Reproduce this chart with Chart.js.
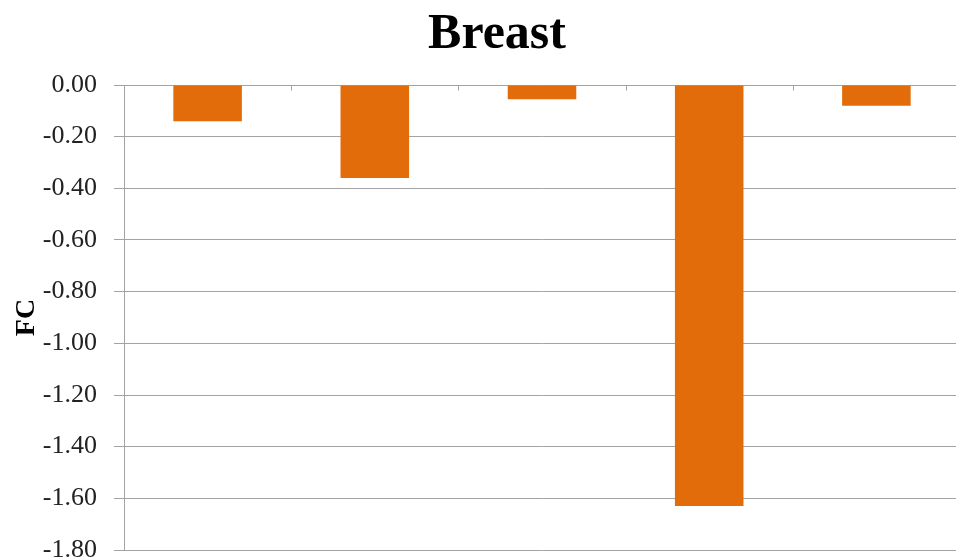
<!DOCTYPE html>
<html>
<head>
<meta charset="utf-8">
<script src="https://cdn.jsdelivr.net/npm/chart.js@4/dist/chart.umd.min.js"></script>
<style>
  html, body { margin: 0; padding: 0; overflow: hidden; background: #ffffff; }
  #wrap { width: 960px; height: 558px; }
</style>
</head>
<body>
<div id="wrap"><canvas id="c" width="960" height="558"></canvas></div>
<script>
const chartTitle = "Breast";
const yAxisTitle = "FC";
const categories = ["", "", "", "", ""];
const fcValues = [-0.14, -0.36, -0.055, -1.63, -0.08];
const yMin = -1.8;
const yMax = 0;
const yStep = 0.2;

const gridGrey = "#a3a3a3";
const barColor = "#E36C0A";
const serif = "'Liberation Serif', 'DejaVu Serif', serif";

const categoryTicks = {
  id: "categoryTicks",
  afterDatasetsDraw(chart) {
    const { ctx, chartArea, scales } = chart;
    const n = categories.length;
    const y0 = Math.round(scales.y.getPixelForValue(0)) + 0.5;
    const step = (chartArea.right - chartArea.left) / n;
    ctx.save();
    ctx.strokeStyle = gridGrey;
    ctx.lineWidth = 1;
    ctx.beginPath();
    for (let i = 1; i <= n; i++) {
      const x = Math.round(chartArea.left + i * step) + 0.5;
      ctx.moveTo(x, y0);
      ctx.lineTo(x, y0 + 5);
    }
    ctx.stroke();
    ctx.restore();
  }
};

const titleText = {
  id: "titleText",
  afterDraw(chart) {
    const { ctx } = chart;
    ctx.save();
    ctx.fillStyle = "#000000";
    ctx.font = "bold 50px " + serif;
    ctx.textAlign = "center";
    ctx.textBaseline = "alphabetic";
    ctx.fillText(chartTitle, 497, 48);
    ctx.restore();
  }
};

new Chart(document.getElementById("c"), {
  type: "bar",
  data: {
    labels: categories,
    datasets: [{
      data: fcValues,
      backgroundColor: barColor,
      borderWidth: 0,
      categoryPercentage: 1.0,
      barPercentage: 0.41
    }]
  },
  options: {
    responsive: false,
    animation: false,
    devicePixelRatio: 1,
    layout: { padding: { left: 0, right: 0, top: 85, bottom: 8 } },
    plugins: {
      legend: { display: false },
      tooltip: { enabled: false },
      title: { display: false }
    },
    scales: {
      x: {
        display: false,
        offset: true,
        grid: { display: false }
      },
      y: {
        min: yMin,
        max: yMax,
        afterFit(scale) {
          scale.width = 124;
          scale.paddingTop = 0;
          scale.paddingBottom = 0;
        },
        ticks: {
          stepSize: yStep,
          padding: 17,
          color: "#222222",
          font: { family: serif, size: 26 },
          callback: (v) => Number(v).toFixed(2)
        },
        grid: {
          color: gridGrey,
          lineWidth: 1,
          tickLength: 10,
          drawTicks: true
        },
        border: { display: true, color: gridGrey, width: 1 },
        title: {
          display: true,
          text: yAxisTitle,
          color: "#000000",
          font: { family: serif, size: 28, weight: "bold" },
          padding: { top: 10, bottom: 0 }
        }
      }
    }
  },
  plugins: [categoryTicks, titleText]
});
</script>
</body>
</html>
